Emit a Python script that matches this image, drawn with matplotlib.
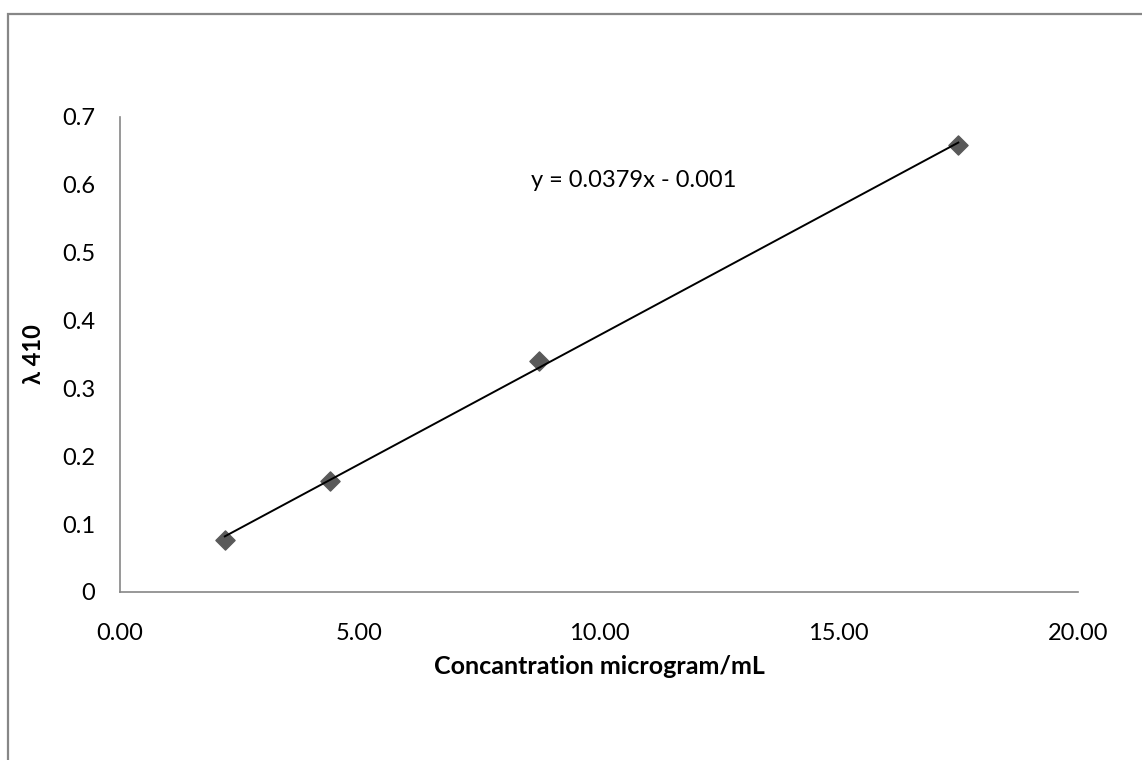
import numpy as np
import matplotlib.pyplot as plt
from matplotlib.patches import Rectangle

# calibration standards
conc = [2.1875, 4.375, 8.75, 17.5]
absorbance = [0.077, 0.163, 0.340, 0.659]
# trendline coefficients (as printed on the chart)
slope = 0.0379
intercept = -0.001
xticks = [0, 5, 10, 15, 20]
yticks = [0, 0.1, 0.2, 0.3, 0.4, 0.5, 0.6, 0.7]
ytick_labels = ["0", "0.1", "0.2", "0.3", "0.4", "0.5", "0.6", "0.7"]

plt.rcParams['font.family'] = ['Lato', 'DejaVu Sans']

fig = plt.figure(figsize=(11.42, 7.6), dpi=100)
ax = fig.add_axes([0.1051, 0.2211, 0.8389, 0.6250])

# chart area border
fig.patches.append(Rectangle((0.007, -0.2), 1.2, 0.9816 + 0.2, transform=fig.transFigure,
                             fill=False, edgecolor='#878787', linewidth=1.6))

ax.scatter(conc, absorbance, marker='D', s=95, color='#595959', zorder=2)

# linear trendline
xs = np.array([conc[0], conc[-1]])
ax.plot(xs, slope * xs + intercept, color='black', linewidth=1.4, zorder=3)
sign = '-' if intercept < 0 else '+'
ax.text(8.58, 0.606, f"y = {slope:.4f}x {sign} {abs(intercept):.3f}",
        fontsize=17, va='center', ha='left')

ax.set_xlim(0, 20)
ax.set_ylim(0, 0.7)
ax.set_xticks(xticks)
ax.set_xticklabels([f"{v:.2f}" for v in xticks])
ax.set_yticks(yticks)
ax.set_yticklabels(ytick_labels)
ax.tick_params(length=0, labelsize=17)
ax.tick_params(axis='y', pad=18)
ax.tick_params(axis='x', pad=22)

for side in ['top', 'right']:
    ax.spines[side].set_visible(False)
for side in ['left', 'bottom']:
    ax.spines[side].set_color('#868686')
    ax.spines[side].set_linewidth(1.2)

ax.set_xlabel("Concantration microgram/mL", fontsize=18, fontweight='bold', labelpad=8)
ax.set_ylabel("λ 410", fontsize=17, fontweight='bold', labelpad=12)

fig.savefig("out.png", dpi=100)
